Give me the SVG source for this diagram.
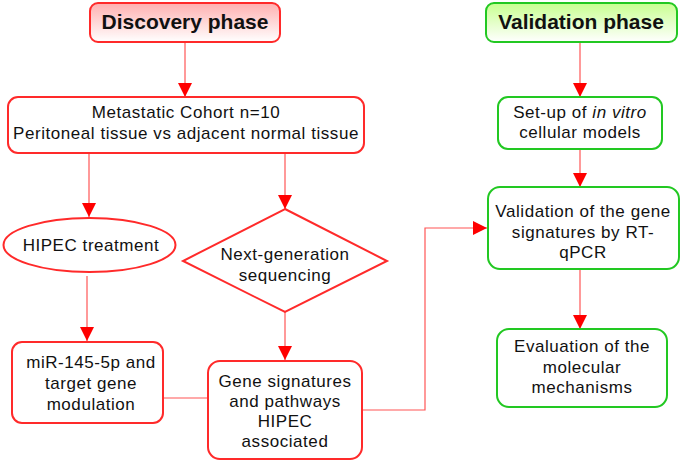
<svg xmlns="http://www.w3.org/2000/svg" width="685" height="463" viewBox="0 0 685 463">
<defs>
<linearGradient id="gRed" x1="0" y1="0" x2="0" y2="1"><stop offset="0" stop-color="#ffb0b0"/><stop offset="1" stop-color="#ffffff"/></linearGradient>
<linearGradient id="gGreen" x1="0" y1="0" x2="0" y2="1"><stop offset="0" stop-color="#c8ff90"/><stop offset="1" stop-color="#ffffff"/></linearGradient>
<marker id="arr" viewBox="0 0 14 14" refX="14" refY="7" markerWidth="14" markerHeight="14" markerUnits="userSpaceOnUse" orient="auto"><path d="M0,0 L14,7 L0,14 z" fill="#ff0000"/></marker>
</defs>
<style>
.r{fill:#fff;stroke:#ff2a2a;stroke-width:2}
.g{fill:#fff;stroke:#22c822;stroke-width:2}
.t{font-family:"Liberation Sans",Arial,sans-serif;font-size:17px;letter-spacing:0.55px;fill:#111;text-anchor:middle}
.h{font-family:"Liberation Sans",Arial,sans-serif;font-size:21px;font-weight:bold;fill:#111;text-anchor:middle}
.c{fill:none;stroke:#ff5555;stroke-width:1.2}
</style>
<g id="connectors">
<line class="c" x1="185" y1="42" x2="185" y2="97" marker-end="url(#arr)"/>
<line class="c" x1="89" y1="153" x2="89" y2="217" marker-end="url(#arr)"/>
<line class="c" x1="285" y1="153" x2="285" y2="209" marker-end="url(#arr)"/>
<line class="c" x1="87" y1="276" x2="87" y2="341" marker-end="url(#arr)"/>
<line class="c" x1="285" y1="312" x2="285" y2="360" marker-end="url(#arr)"/>
<line class="c" x1="163" y1="398" x2="208" y2="398"/>
<polyline class="c" points="362,410 425,410 425,228 487,228" marker-end="url(#arr)"/>
<line class="c" x1="580" y1="42" x2="580" y2="97" marker-end="url(#arr)"/>
<line class="c" x1="580" y1="149" x2="580" y2="187" marker-end="url(#arr)"/>
<line class="c" x1="580" y1="269" x2="580" y2="329" marker-end="url(#arr)"/>
</g>
<g id="discovery">
<rect x="90" y="3" width="190" height="39" rx="8" fill="url(#gRed)" stroke="#ff2a2a" stroke-width="2"/>
<text class="h" x="185" y="29">Discovery phase</text>
</g>
<g id="cohort">
<rect class="r" x="8" y="97" width="356" height="56" rx="10"/>
<text class="t" x="186" y="118">Metastatic Cohort n=10</text>
<text class="t" x="186" y="139">Peritoneal tissue vs adjacent normal tissue</text>
</g>
<g id="hipec">
<ellipse class="r" cx="89.5" cy="245" rx="86" ry="27"/>
<text class="t" x="91" y="251">HIPEC treatment</text>
</g>
<g id="ngs">
<polygon class="r" points="285,209 387,261 285,312 183,261"/>
<text class="t" x="285" y="260">Next-generation</text>
<text class="t" x="285" y="281">sequencing</text>
</g>
<g id="mir">
<rect class="r" x="12" y="342" width="151" height="81" rx="10"/>
<text class="t" x="91" y="368">miR-145-5p and</text>
<text class="t" x="91" y="389">target gene</text>
<text class="t" x="91" y="410">modulation</text>
</g>
<g id="gene">
<rect class="r" x="208" y="361" width="154" height="98" rx="12"/>
<text class="t" x="285" y="387">Gene signatures</text>
<text class="t" x="285" y="407">and pathways</text>
<text class="t" x="285" y="427">HIPEC</text>
<text class="t" x="285" y="447">associated</text>
</g>
<g id="validation">
<rect x="486" y="3" width="191" height="39" rx="8" fill="url(#gGreen)" stroke="#22c822" stroke-width="2"/>
<text class="h" x="581" y="29">Validation phase</text>
</g>
<g id="setup">
<rect class="g" x="498" y="97" width="164" height="52" rx="10"/>
<text class="t" x="580" y="118">Set-up of <tspan font-style="italic">in vitro</tspan></text>
<text class="t" x="580" y="138">cellular models</text>
</g>
<g id="rtqpcr">
<rect class="g" x="488" y="187" width="191" height="82" rx="12"/>
<text class="t" x="583" y="217">Validation of the gene</text>
<text class="t" x="583" y="238">signatures by RT-</text>
<text class="t" x="583" y="258">qPCR</text>
</g>
<g id="evaluation">
<rect class="g" x="497" y="329" width="170" height="78" rx="12"/>
<text class="t" x="582" y="352">Evaluation of the</text>
<text class="t" x="582" y="373">molecular</text>
<text class="t" x="582" y="393">mechanisms</text>
</g>
</svg>
